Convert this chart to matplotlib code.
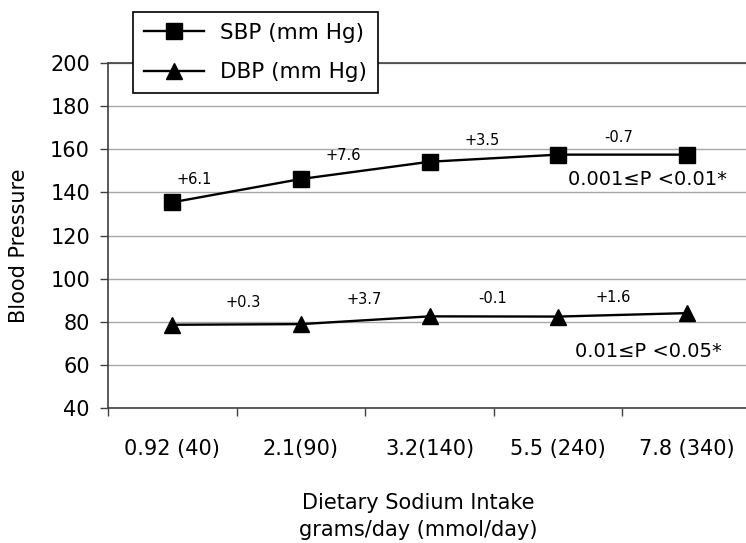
import matplotlib
matplotlib.use("Agg")
import matplotlib.pyplot as plt

# data
categories = ['0.92 (40)', '2.1(90)', '3.2(140)', '5.5 (240)', '7.8 (340)']
sbp = [135.4, 146.2, 154.2, 157.5, 157.5]
dbp = [78.6, 78.9, 82.5, 82.4, 84.0]
sbp_changes = ['+6.1', '+7.6', '+3.5', '-0.7']
dbp_changes = ['+0.3', '+3.7', '-0.1', '+1.6']
sbp_p = '0.001\u2264P <0.01*'
dbp_p = '0.01\u2264P <0.05*'

# where the change labels sit (x in category units, y in data units)
sbp_label_x = [0.67, 1.83, 2.91, 3.97]
sbp_label_y = [146.2, 157.3, 164.1, 165.5]
dbp_label_x = [1.05, 1.99, 2.99, 3.93]
dbp_label_y = [88.7, 90.1, 90.8, 91.3]

plt.rcParams['font.family'] = 'DejaVu Sans'

W, H = 746, 543
fig = plt.figure(figsize=(W / 100, H / 100), dpi=100)
# plot area runs slightly past the right edge, like the original
ax = fig.add_axes([108 / W, 1 - 408 / H, 643 / W, 345 / H])

x = [i + 0.5 for i in range(len(categories))]
ax.plot(x, sbp, color='black', lw=1.7, marker='s', ms=11, label='SBP (mm Hg)', zorder=3)
ax.plot(x, dbp, color='black', lw=1.7, marker='^', ms=12, label='DBP (mm Hg)', zorder=3)

for t, lx, ly in zip(sbp_changes, sbp_label_x, sbp_label_y):
    ax.text(lx, ly, t, ha='center', va='center', fontsize=10.5)
for t, lx, ly in zip(dbp_changes, dbp_label_x, dbp_label_y):
    ax.text(lx, ly, t, ha='center', va='center', fontsize=10.5)
ax.text(4.81, 145.8, sbp_p, ha='right', va='center', fontsize=14)
ax.text(4.775, 66.1, dbp_p, ha='right', va='center', fontsize=14)

ax.set_xlim(0, 5)
ax.set_ylim(40, 200)
ax.set_yticks(range(40, 201, 20))
ax.yaxis.grid(True, color='#a8a8a8', lw=1)
ax.set_axisbelow(True)

ax.set_xticks(x)
ax.set_xticklabels(categories)
ax.set_xticks(range(0, 6), minor=True)
ax.tick_params(axis='x', which='major', length=0, pad=22, labelsize=15)
ax.tick_params(axis='x', which='minor', length=6, width=1, color='#404040')
ax.tick_params(axis='y', length=6, width=1, color='#404040', pad=7, labelsize=15)

for s in ['left', 'bottom', 'top']:
    ax.spines[s].set_color('#404040')
    ax.spines[s].set_linewidth(1.2)
ax.spines['right'].set_visible(False)

ax.set_xlabel('Dietary Sodium Intake\ngrams/day (mmol/day)', fontsize=15, linespacing=1.45)
ax.xaxis.set_label_coords(0.482, -0.245)
ax.set_ylabel('Blood Pressure', fontsize=15, va='center')
ax.yaxis.set_label_coords(-(108 - 19) / 643, 0.469)

leg = fig.legend(loc='upper left', bbox_to_anchor=(133 / W, 1 - 12 / H),
                 borderaxespad=0, fontsize=15.5, numpoints=1, handlelength=2.8,
                 handletextpad=0.75, borderpad=0.5, labelspacing=0.9,
                 fancybox=False, framealpha=1)
leg.get_frame().set_edgecolor('black')
leg.get_frame().set_linewidth(1.2)

fig.savefig('out.png', dpi=100)
